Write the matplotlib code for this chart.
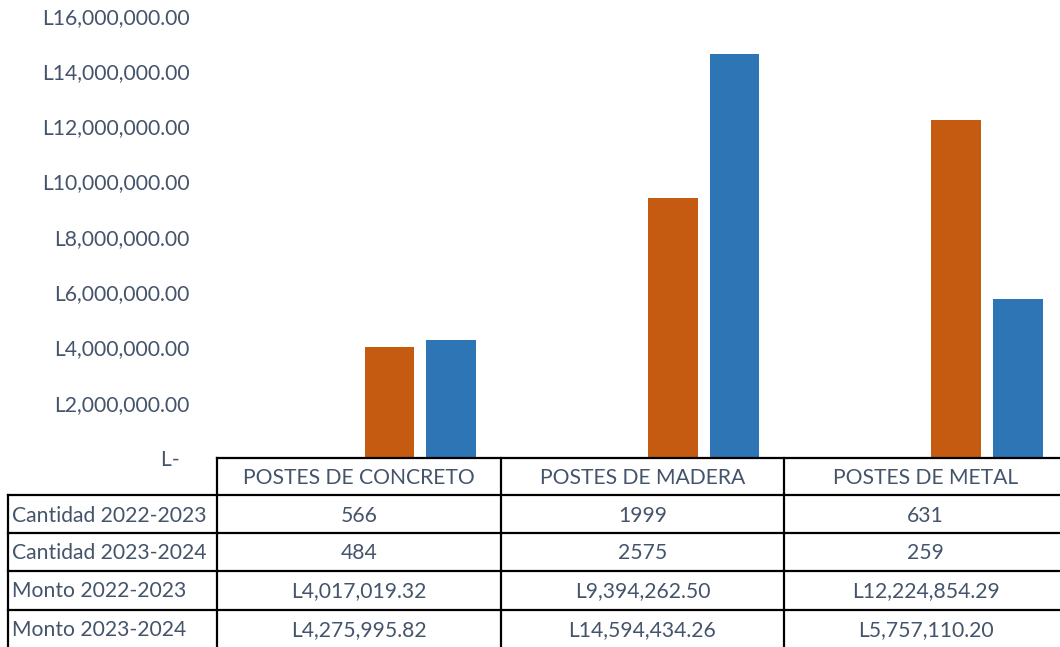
import matplotlib
matplotlib.use("Agg")
import matplotlib.pyplot as plt
from matplotlib.lines import Line2D
from matplotlib.ticker import FuncFormatter

categories = ["POSTES DE CONCRETO", "POSTES DE MADERA", "POSTES DE METAL"]
series_names = ["Cantidad 2022-2023", "Cantidad 2023-2024", "Monto 2022-2023", "Monto 2023-2024"]
cantidad_2022 = [566, 1999, 631]
cantidad_2023 = [484, 2575, 259]
monto_2022 = [4017019.32, 9394262.50, 12224854.29]
monto_2023 = [4275995.82, 14594434.26, 5757110.20]
cell_text = [
    ["566", "1999", "631"],
    ["484", "2575", "259"],
    ["L4,017,019.32", "L9,394,262.50", "L12,224,854.29"],
    ["L4,275,995.82", "L14,594,434.26", "L5,757,110.20"],
]
yticks = [0, 2e6, 4e6, 6e6, 8e6, 10e6, 12e6, 14e6, 16e6]

W, H = 1060, 647
TXT = "#44546A"
FONT = "Lato"
FS = 15.2
plt.rcParams['font.family'] = [FONT, 'DejaVu Sans']

fig = plt.figure(figsize=(W / 100, H / 100), dpi=100)
ax_left, ax_right = 217, 1067
y_zero, y_top = 458, 15.6
ax = fig.add_axes([ax_left / W, 1 - y_zero / H, (ax_right - ax_left) / W, (y_zero - y_top) / H])

colors = ["#2E75B6", "#C55A11", "#C55A11", "#2E75B6"]
all_series = [cantidad_2022, cantidad_2023, monto_2022, monto_2023]
bw = 0.176
step = 0.2175
x = list(range(len(categories)))
for i, vals in enumerate(all_series):
    off = (i - 1.5) * step
    ax.bar([xi + off for xi in x], vals, width=bw, color=colors[i], linewidth=0)

ax.set_xlim(-0.5, 2.5)
ax.set_ylim(0, 16e6)
ax.set_yticks(yticks)

def fmt(v, _):
    if v == 0:
        return "L-  "
    return "L{:,.2f}".format(v)

ax.yaxis.set_major_formatter(FuncFormatter(fmt))
ax.tick_params(axis='y', length=0, pad=19.5, labelsize=FS, labelcolor=TXT)
ax.set_xticks([])
for s in ax.spines.values():
    s.set_visible(False)

# table drawn in figure pixel coordinates
def fx(px):
    return px / W

def fy(py):
    return 1 - py / H

col_edges = [217, 501, 784, 1067]
row_edges = [458, 495, 533, 571, 610, 685]
label_left = 8
lw = 1.6

def hline(y, x0, x1):
    fig.add_artist(Line2D([fx(x0), fx(x1)], [fy(y), fy(y)], color="black", lw=lw, transform=fig.transFigure))

def vline(xp, y0, y1):
    fig.add_artist(Line2D([fx(xp), fx(xp)], [fy(y0), fy(y1)], color="black", lw=lw, transform=fig.transFigure))

hline(row_edges[0], col_edges[0], col_edges[-1])
for y in row_edges[1:5]:
    hline(y, label_left, col_edges[-1])
for xp in col_edges[:-1]:
    vline(xp, row_edges[0], H + 5)
vline(label_left, row_edges[1], H + 5)

# header
for j, cat in enumerate(categories):
    cx = (col_edges[j] + col_edges[j + 1]) / 2
    fig.text(fx(cx), fy(478), cat, ha="center", va="center", fontsize=FS, color=TXT)

row_centers = [516, 553, 591, 630]
for i, name in enumerate(series_names):
    cy = row_centers[i]
    fig.text(fx(label_left + 4), fy(cy), name, ha="left", va="center", fontsize=FS, color=TXT)
    for j in range(len(categories)):
        cx = (col_edges[j] + col_edges[j + 1]) / 2
        fig.text(fx(cx), fy(cy), cell_text[i][j], ha="center", va="center", fontsize=FS, color=TXT)

fig.savefig("out.png", dpi=100)
